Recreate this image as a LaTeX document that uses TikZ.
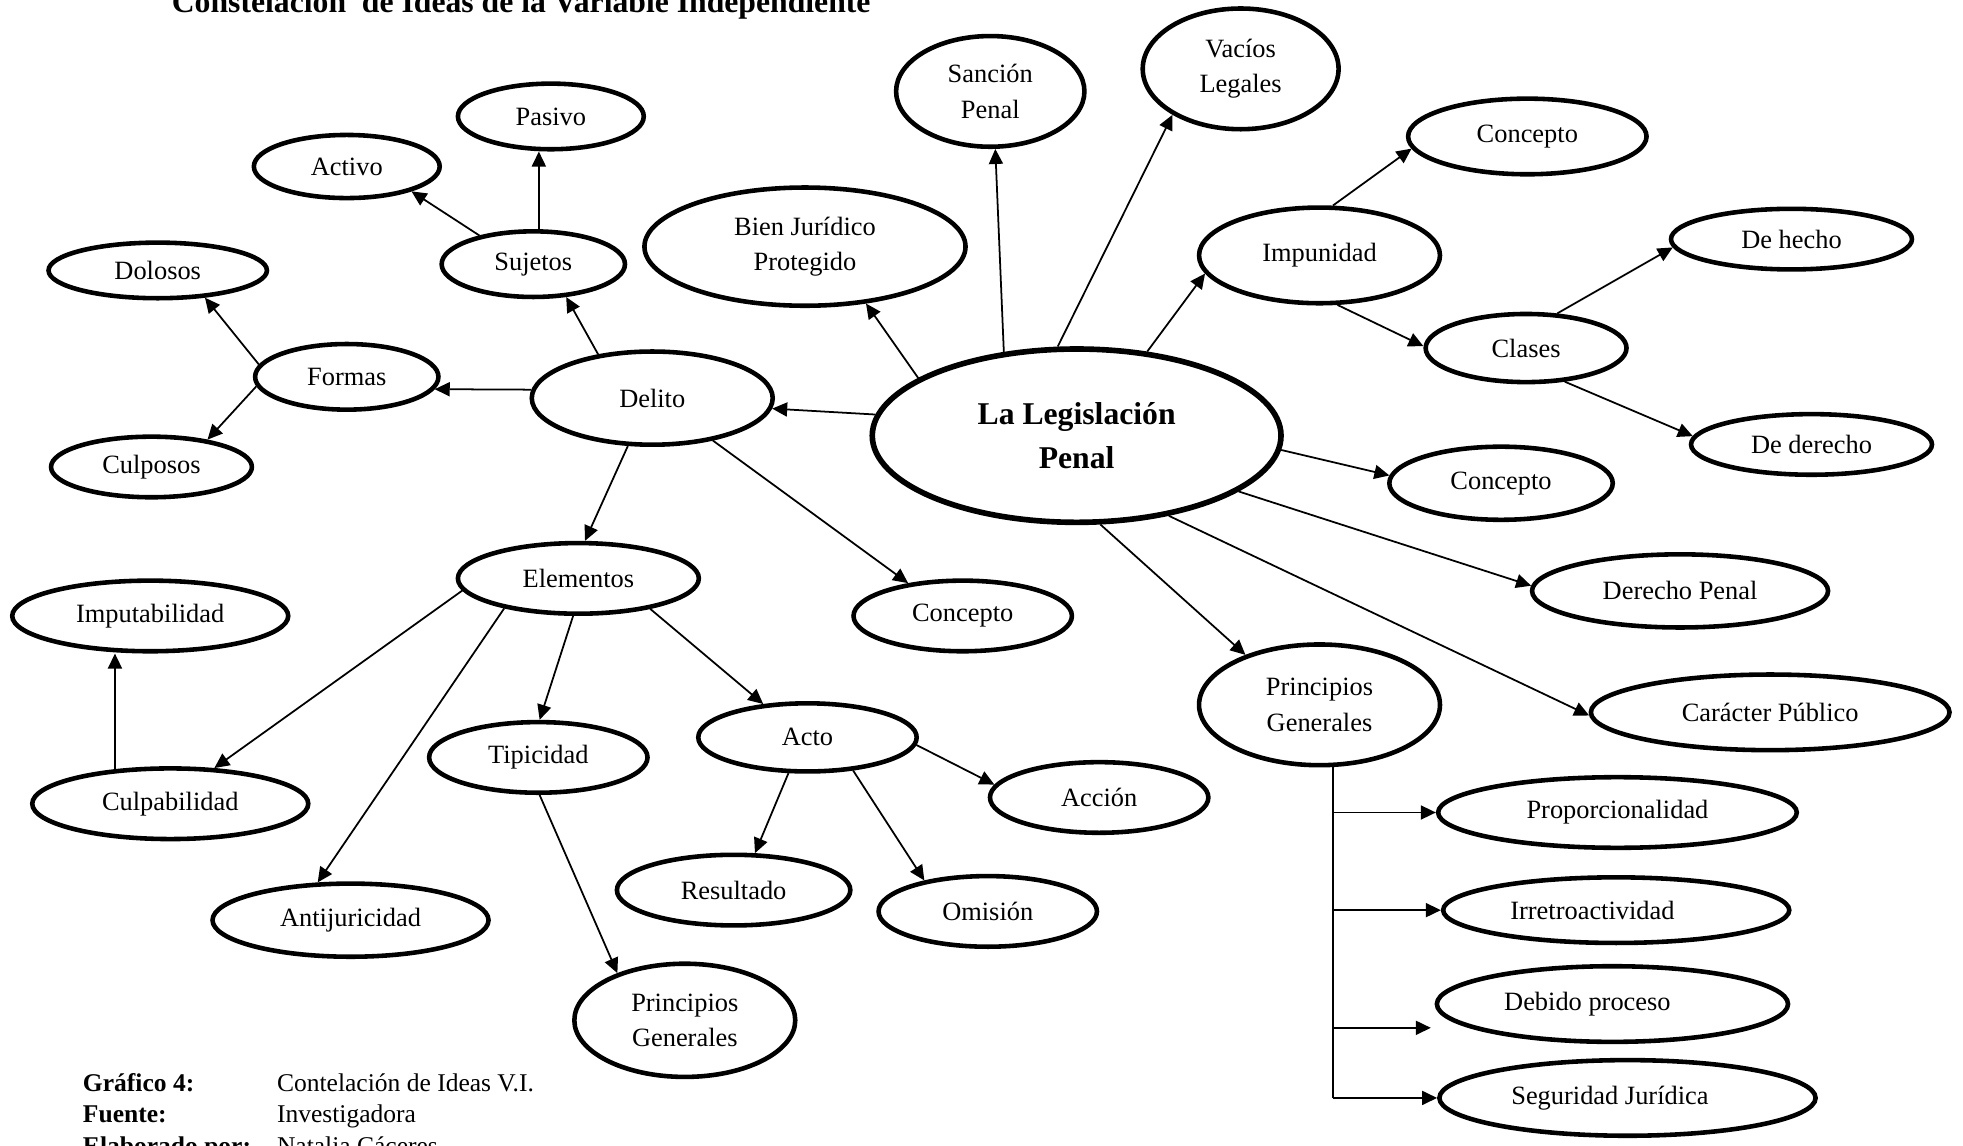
\documentclass[tikz,border=0pt]{standalone}
\usepackage{fontspec}
\setmainfont{Liberation Serif}
\usetikzlibrary{shapes.geometric,arrows.meta,calc}
\newcommand\bubfont{\fontsize{15}{20}\selectfont}
\newcommand\hubfont{\bfseries\fontsize{18}{25}\selectfont}
\newcommand\capfont{\fontsize{14.5}{18}\selectfont}
\begin{document}
\begin{tikzpicture}[x=0.025cm, y=-0.025cm,
  bub/.style 2 args={draw, ellipse, line width=2.6pt, inner sep=0pt,
    minimum width={(#1)*0.05cm-0.09cm}, minimum height={(#2)*0.05cm-0.09cm},
    font=\bubfont, align=center},
  arr/.style={line width=1pt, -{Triangle[length=0.3cm,width=0.28cm]}},
  trunk/.style={line width=1pt},
  captxt/.style={anchor=base west, inner sep=0pt, font=\capfont}]

\useasboundingbox (0,0) rectangle (1568,915);

% heading (partly above the page edge)
\node[anchor=base west, inner sep=0pt, font=\bfseries\fontsize{18}{22}\selectfont]
  (title) at (137,10) {Constelación\ \ de Ideas de la Variable Independiente};

% central concept
\node[bub={165}{71}, line width=3.2pt, font=\hubfont] (main) at (860,348) {La Legislación\\Penal};

% upper right branch
\node[bub={77}{46}]  (sancion)  at (791,73)   {Sanción\\Penal};
\node[bub={80}{50}]  (vacios)   at (991,55)   {Vacíos\\Legales};
\node[bub={97}{32}]  (concT)    at (1220,109) {Concepto};
\node[bub={98}{40}]  (impun)    at (1054,204) {Impunidad};
\node[bub={98}{26}]  (hecho)    at (1431,191) {De hecho};
\node[bub={82}{29}]  (clases)   at (1219,278) {Clases};
\node[bub={98}{26}]  (derecho)  at (1447,355) {De derecho};
\node[bub={91}{31}]  (concR)    at (1199,386) {Concepto};
\node[bub={120}{31}] (dpenal)   at (1342,472) {Derecho Penal};
\node[bub={145}{32}] (caracter) at (1414,569) {Carácter Público};

% general principles
\node[bub={98}{50}]  (prinR)     at (1054,563) {Principios\\Generales};
\node[bub={145}{30}] (propor)    at (1292,649) {Proporcionalidad};
\node[bub={140}{28}] (irretro)   at (1291,727) {\hspace*{-0.95cm}Irretroactividad};
\node[bub={142}{32}] (debido)    at (1288,802) {\hspace*{-1cm}Debido proceso};
\node[bub={152}{32}] (seguridad) at (1300,877) {\hspace*{-0.7cm}Seguridad Jurídica};

% crime branch
\node[bub={130}{49}] (bien)      at (643,197) {Bien Jurídico\\Protegido};
\node[bub={98}{39}]  (delito)    at (521,318) {Delito};
\node[bub={75}{28}]  (formas)    at (277,301) {Formas};
\node[bub={89}{24}]  (dolosos)   at (126,216) {Dolosos};
\node[bub={82}{26}]  (culposos)  at (121,373) {Culposos};
\node[bub={75}{28}]  (sujetos)   at (426,211) {Sujetos};
\node[bub={76}{27}]  (activo)    at (277,133) {Activo};
\node[bub={76}{28}]  (pasivo)    at (440,93)  {Pasivo};
\node[bub={89}{30}]  (concM)     at (769,492) {Concepto};
\node[bub={98}{30}]  (elementos) at (462,462) {Elementos};
\node[bub={112}{30}] (imputab)   at (120,492) {Imputabilidad};
\node[bub={112}{30}] (culpab)    at (136,642) {Culpabilidad};
\node[bub={112}{31}] (antijur)   at (280,735) {Antijuricidad};
\node[bub={89}{30}]  (tipicidad) at (430,605) {Tipicidad};
\node[bub={90}{47}]  (prinB)     at (547,815) {Principios\\Generales};
\node[bub={89}{29}]  (acto)      at (645,589) {Acto};
\node[bub={89}{30}]  (accion)    at (878,637) {Acción};
\node[bub={95}{30}]  (resultado) at (586,711) {Resultado};
\node[bub={89}{30}]  (omision)   at (789,728) {Omisión};

% connectors from the central concept
\draw[arr] (main.131) -- (sancion.275);
\draw[arr] (main.102) -- (vacios.214);
\draw[arr] (main.50)  -- (impun.189);
\draw[arr] (main.-4)  -- (concR.176);
\draw[arr] (main.-19) -- (dpenal.178);
\draw[arr] (main.-41) -- (caracter.181);
\draw[arr] (main.-75) -- (prinR.146);
\draw[arr] (main.174) -- (delito.-5);
\draw[arr] (main.160) -- (bien.-43);

% impunity
\draw[arr] (impun.75)  -- (concT.186);
\draw[arr] (impun.-70) -- (clases.179);
\draw[arr] (clases.48)  -- (hecho.184);
\draw[arr] (clases.-41) -- (derecho.176);

% principles list
\coordinate (dbtip) at ($(debido.west)+(-3,19)$);
\draw[trunk] (prinR.-78) -- (prinR.-78 |- seguridad.west);
\draw[arr] (prinR.-78 |- propor.west)    -- (propor.west);
\draw[arr] (prinR.-78 |- irretro.west)   -- (irretro.west);
\draw[arr] (prinR.-78 |- dbtip)          -- (dbtip);
\draw[arr] (prinR.-78 |- seguridad.west) -- (seguridad.west);

% crime
\draw[arr] (delito.176)  -- (formas.-8);
\draw[arr] (formas.172)  -- (dolosos.-30);
\draw[arr] (formas.-174) -- (culposos.26);
\draw[arr] (delito.141)  -- (sujetos.-45);
\draw[arr] (sujetos.152) -- (activo.-21);
\draw[arr] (sujetos.81)  -- (sujetos.81 |- pasivo.south);
\draw[arr] (delito.-117) -- (elementos.80);
\draw[arr] (delito.-35)  -- (concM.149);

% elements
\draw[arr] (elementos.-174) -- (culpab.39);
\draw[arr] (culpab.148) -- (culpab.148 |- imputab.south);
\draw[arr] (elementos.-158) -- (antijur.131);
\draw[arr] (elementos.-98)  -- (tipicidad.88);
\draw[arr] (tipicidad.-88)  -- (prinB.145);
\draw[arr] (elementos.-23)  -- (acto.143);
\draw[arr] (acto.-4)    -- (accion.173);
\draw[arr] (acto.-118)  -- (resultado.60);
\draw[arr] (acto.-36)   -- (omision.154);

% caption (last line runs past the lower edge)
\node[captxt, font=\capfont\bfseries] (capA1) at (66,872) {Gráfico 4:};
\node[captxt] (capB1) at (221,872) {Contelación de Ideas V.I.};
\node[captxt, font=\capfont\bfseries] (capA2) at (66,897) {Fuente:};
\node[captxt] (capB2) at (221,897) {Investigadora};
\node[captxt, font=\capfont\bfseries] (capA3) at (66,922) {Elaborado por:};
\node[captxt] (capB3) at (221,922) {Natalia Cáceres};
\end{tikzpicture}
\end{document}
